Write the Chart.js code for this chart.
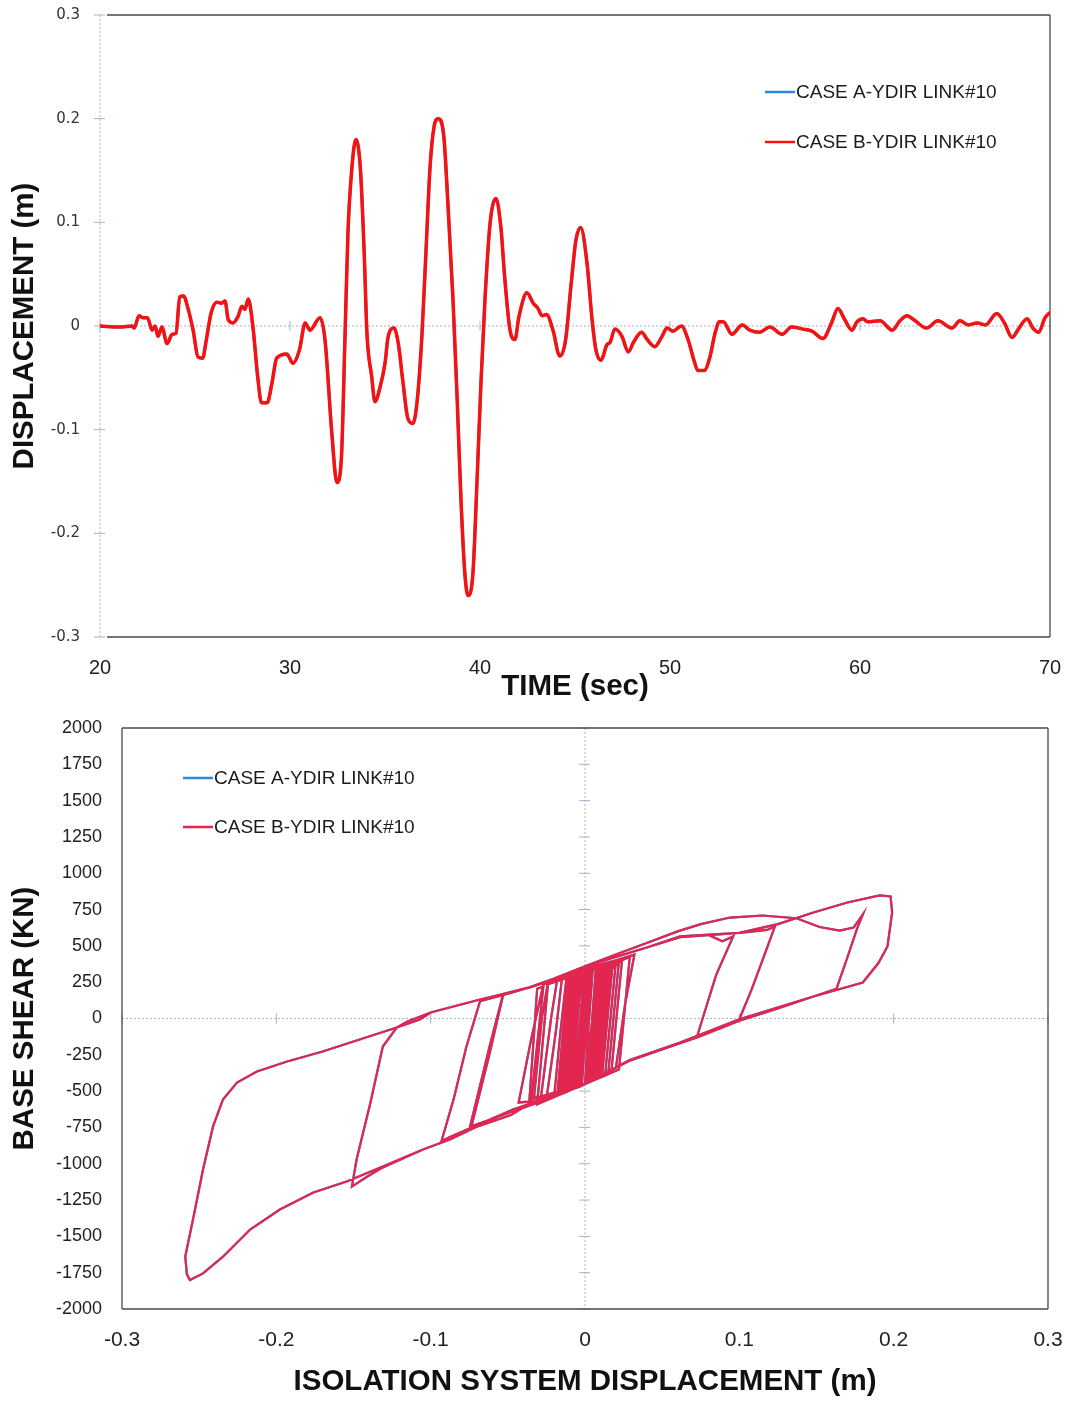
<!DOCTYPE html>
<html>
<head>
<meta charset="utf-8">
<title>Link #10 - displacement history and hysteresis</title>
<script src="https://cdn.jsdelivr.net/npm/chart.js@4.4.1/dist/chart.umd.min.js"></script>
<style>
  html, body { margin: 0; padding: 0; background: #fff; }
  #page { position: relative; width: 1070px; height: 1401px; }
  #wrapTime { position: absolute; left: 0; top: 0; width: 1070px; height: 705px; }
  #wrapLoop { position: absolute; left: 0; top: 705px; width: 1070px; height: 696px; }
</style>
</head>
<body>
<div id="page">
  <div id="wrapTime"><canvas id="timeChart" width="1070" height="705"></canvas></div>
  <div id="wrapLoop"><canvas id="loopChart" width="1070" height="696"></canvas></div>
</div>
<script>
// series names
const seriesLabels = ['CASE A-YDIR LINK#10', 'CASE B-YDIR LINK#10'];

// top chart: displacement (m) vs time (sec)
const timeSec = [
  20, 21.05, 21.7, 21.8, 22.05, 22.25, 22.5, 22.74, 22.9, 23.05,
  23.26, 23.53, 23.8, 24.0, 24.2, 24.4, 24.63, 24.9, 25.16, 25.4,
  25.6, 25.84, 26.15, 26.4, 26.58, 26.75, 27.0, 27.26, 27.47, 27.63,
  27.8, 28.05, 28.3, 28.5, 28.8, 29.05, 29.3, 29.84, 29.95, 30.16,
  30.5, 30.8, 31.05, 31.58, 31.84, 32.2, 32.47, 32.7, 32.9, 33.05,
  33.26, 33.47, 33.7, 33.9, 34.05, 34.3, 34.47, 34.74, 35.0, 35.16,
  35.47, 35.7, 35.95, 36.2, 36.47, 36.7, 36.95, 37.16, 37.37, 37.58,
  37.8, 38.1, 38.3, 38.58, 38.8, 39.0, 39.2, 39.37, 39.63, 39.84,
  40.05, 40.26, 40.53, 40.84, 41.1, 41.3, 41.58, 41.84, 42.05, 42.47,
  42.8, 43.05, 43.26, 43.5, 43.84, 44.2, 44.5, 44.8, 45.05, 45.3,
  45.63, 45.9, 46.1, 46.37, 46.68, 46.84, 47.1, 47.47, 47.8, 48.1,
  48.5, 48.8, 49.2, 49.58, 49.84, 50.16, 50.6, 50.95, 51.26, 51.47,
  51.8, 52.1, 52.37, 52.6, 52.8, 53.26, 53.8, 54.2, 54.7, 55.26,
  55.9, 56.4, 57.0, 57.47, 58.05, 58.5, 58.84, 59.2, 59.58, 59.84,
  60.16, 60.4, 61.05, 61.7, 62.1, 62.47, 62.9, 63.5, 64.1, 64.84,
  65.26, 65.7, 66.16, 66.6, 67.2, 67.6, 68.0, 68.37, 68.8, 69.1,
  69.4, 69.74, 70
];
const dispCaseB = [
  0, -0.001, 0, -0.002, 0.010, 0.008, 0.008, -0.004, 0, -0.010,
  -0.001, -0.017, -0.008, -0.007, 0.028, 0.029, 0.017, -0.004, -0.030, -0.031,
  -0.013, 0.012, 0.023, 0.022, 0.024, 0.006, 0.003, 0.009, 0.019, 0.016,
  0.026, -0.001, -0.049, -0.074, -0.074, -0.055, -0.031, -0.027, -0.030, -0.036,
  -0.023, 0.003, -0.004, 0.008, -0.013, -0.103, -0.151, -0.129, -0.007, 0.090,
  0.153, 0.180, 0.153, 0.073, -0.007, -0.049, -0.073, -0.059, -0.036, -0.011,
  -0.002, -0.017, -0.055, -0.089, -0.094, -0.071, -0.007, 0.073, 0.153, 0.192,
  0.200, 0.182, 0.122, 0.025, -0.071, -0.168, -0.238, -0.260, -0.238, -0.151,
  -0.055, 0.025, 0.099, 0.123, 0.095, 0.047, -0.004, -0.013, 0.009, 0.032,
  0.022, 0.017, 0.010, 0.011, -0.004, -0.029, -0.014, 0.041, 0.083, 0.095,
  0.061, 0.006, -0.023, -0.033, -0.018, -0.016, -0.003, -0.010, -0.025, -0.015,
  -0.006, -0.013, -0.020, -0.010, -0.002, -0.005, 0.000, -0.013, -0.033, -0.043,
  -0.043, -0.030, -0.007, 0.004, 0.004, -0.008, 0.001, -0.004, -0.006, -0.001,
  -0.008, -0.001, -0.003, -0.005, -0.012, 0.003, 0.017, 0.006, -0.004, 0.004,
  0.007, 0.004, 0.005, -0.004, 0.005, 0.010, 0.005, -0.002, 0.005, -0.002,
  0.005, 0.001, 0.003, 0.001, 0.012, 0.003, -0.011, -0.002, 0.007, -0.002,
  -0.006, 0.008, 0.013
];
// case A sits under case B in the picture (same trace)
const dispCaseA = dispCaseB;

// bottom chart: [isolation displacement (m), base shear (kN)] in drawing order
const loopPoints = [
  [0.000,-450],
  [0.007,-419],[0.014,369],[-0.008,292],[-0.015,-518],
  [0.005,-428],[0.012,362],[-0.006,299],[-0.013,-509],
  [0.009,-410],[0.016,376],[-0.009,289],[-0.016,-522],
  [0.004,-432],[0.011,359],[-0.004,306],[-0.011,-500],
  [0.011,-401],[0.018,383],[-0.007,296],[-0.014,-513],
  [0.002,-441],[0.009,352],[-0.005,303],[-0.012,-504],
  [0.013,-392],[0.020,390],[-0.011,282],[-0.018,-531],
  [0.008,-414],[0.015,373],[-0.003,310],[-0.010,-495],
  [0.015,-383],[0.022,397],[-0.002,313],[-0.009,-491],
  [0.006,-423],[0.013,366],[-0.010,285],[-0.017,-527],
  [0.003,-437],[0.010,355],[0.003,331],[-0.004,-468],
  [0.001,-446],[0.008,348],[-0.003,310],[-0.010,-495],
  [-0.005,-473],[-0.001,100],[-0.008,60],[-0.017,-527],
  [0.022,-351],[0.029,422],[-0.024,236],[-0.031,-590],
  [0.017,-374],[0.024,404],[0.008,250],[0.003,-150],[0.015,350],[0.026,411],
  [0.010,355],[-0.014,289],[-0.036,213],[-0.053,165],[-0.062,-250],[-0.074,-760],
  [-0.048,-665],[-0.035,-580],[-0.027,220],[-0.031,205],[-0.036,-560],
  [0.001,-446],[0.008,385],
  [-0.014,289],[-0.036,213],[-0.068,131],[-0.100,41],[-0.115,-20],[-0.122,-62],
  [-0.131,-193],[-0.139,-578],[-0.148,-971],[-0.151,-1157],
  [-0.141,-1088],[-0.131,-1025],[-0.105,-902],[-0.0875,-833],[-0.0467,-627],[-0.003,-468],
  [0.029,-290],[0.0616,-170],[0.0726,-130],[0.100,-15],[0.125,70],[0.148,151],[0.163,205],
  [0.170,420],[0.176,610],[0.180,716],
  [0.174,626],[0.165,605],[0.152,630],[0.137,690],[0.115,709],[0.094,695],[0.075,650],
  [0.060,600],[0.040,520],[0.020,440],[0.000,360],[-0.020,275],[-0.036,215],[-0.053,170],
  [-0.062,-200],[-0.0745,-745],
  [-0.047,-640],[-0.025,-560],[-0.010,-495],[-0.006,-100],[-0.002,330],
  [-0.020,270],[-0.036,213],[-0.050,170],[-0.068,120],[-0.077,-200],[-0.085,-550],[-0.093,-845],
  [-0.0875,-815],[-0.0467,-627],[-0.003,-468],[0.029,-285],[0.0616,-165],[0.100,-5],
  [0.148,151],[0.180,248],[0.190,380],[0.196,496],[0.199,730],[0.198,840],
  [0.191,847],[0.170,799],[0.148,730],[0.125,650],[0.100,590],[0.0616,565],[0.040,489],
  [0.0078,385],[-0.014,289],[-0.0356,213],[-0.068,131],[-0.100,41],[-0.107,-7],[-0.122,-62],
  [-0.148,-151],[-0.170,-227],[-0.193,-296],[-0.2126,-365],[-0.2255,-441],[-0.2346,-558],
  [-0.241,-743],[-0.2475,-1040],[-0.254,-1384],[-0.259,-1638],[-0.258,-1760],[-0.256,-1800],
  [-0.2475,-1755],[-0.2346,-1640],[-0.217,-1453],[-0.1977,-1315],[-0.176,-1198],[-0.154,-1120],
  [-0.131,-1019],[-0.105,-902],[-0.0875,-833],[-0.0467,-627],[-0.003,-468],[0.029,-285],
  [0.0616,-165],[0.085,-75],[0.100,-5],[0.108,200],[0.116,430],[0.123,633],
  [0.118,610],[0.100,590],[0.0616,560],[0.040,489],[0.0078,385],[-0.005,330],[-0.009,0],[-0.013,-510],
  [0.000,-450],[0.020,-340],[0.026,100],[0.032,440],
  [0.020,400],[0.000,345],[-0.018,270],[-0.022,0],[-0.029,-580],
  [0.000,-450],[0.029,-290],[0.0616,-165],[0.0726,-124],[0.085,300],[0.096,565],[0.089,532],[0.080,575],
  [0.0616,560],[0.040,489],[0.0078,385],[-0.014,289],[-0.024,250],[-0.028,0],[-0.033,-540],
  [-0.020,-540],[-0.010,-495],[-0.006,-100],[-0.003,310],
  [-0.015,270],[-0.019,-100],[-0.025,-555],
  [-0.013,-510],[-0.009,-50],[-0.006,300],
  [-0.012,280],[-0.016,-100],[-0.020,-540],
  [-0.007,-480],[-0.003,-50],[0.000,320],
  [-0.014,289],[-0.027,234],[-0.035,-150],[-0.043,-578],
  [-0.0337,-571],[-0.010,-495],[-0.003,-464],[0.001,-100],[0.004,334],
  [0.000,320],[-0.004,-100],[-0.008,-486],
  [-0.004,-468],[-0.001,-50],[0.001,324],
  [-0.001,317],[-0.003,-100],[-0.006,-477],
  [-0.004,-468],[-0.002,-100],[-0.001,200],
  [-0.004,180],[-0.006,-150],[-0.008,-486],
  [-0.003,-464],[-0.001,200],
  [-0.006,200],[-0.009,-150],[-0.012,-504],
  [0.006,-423],[0.010,-405],[0.014,0],[0.017,380],
  [0.008,348],[0.003,331],[0.000,0],[-0.004,-468],
  [0.001,-446],[0.004,-100],[0.007,345],
  [0.003,331],[0.000,0],[-0.004,-468],
  [0.003,-437],[0.007,-50],[0.010,355],
  [0.005,338],[0.001,0],[-0.002,-459],
  [0.000,-450],[0.002,-100],[0.005,338],
  [0.002,327],[0.000,0],[-0.002,-459],
  [0.005,-428],[0.009,-50],[0.012,362],
  [0.000,320],[-0.005,270],[-0.008,-100],[-0.011,-500],
  [0.000,-450],[0.004,-100],[0.007,345],
  [0.001,324],[-0.003,-50],[-0.006,-477],
  [0.006,-423],[0.010,-50],[0.013,365]
];
const loopCaseA = loopPoints; // also hidden under case B

const SANS = '"Liberation Sans", Arial, sans-serif';
const BLUE = '#2f8ad6';
const RED_TOP = '#f71212';
const RED_LOOP = '#e3264f';

function toXY(xs, ys) {
  return xs.map((x, i) => ({ x: x, y: ys[i] }));
}

// dotted axes through the origin, cross tick marks, and the solid plot frame
const framePlugin = {
  id: 'frame',
  beforeDatasetsDraw(chart, args, o) {
    const { ctx, chartArea: a, scales: { x, y } } = chart;
    const x0 = x.getPixelForValue(o.crossX);
    const y0 = y.getPixelForValue(o.crossY);
    const seg = (x1, y1, x2, y2) => { ctx.beginPath(); ctx.moveTo(x1, y1); ctx.lineTo(x2, y2); ctx.stroke(); };
    ctx.save();
    ctx.strokeStyle = '#a7b1c7';
    ctx.lineWidth = 1;
    ctx.setLineDash([2, 2]);
    seg(x0, a.top, x0, a.bottom);
    seg(a.left, y0, a.right, y0);
    ctx.setLineDash([]);
    x.ticks.forEach(t => { const px = x.getPixelForValue(t.value); seg(px, y0 - 5, px, y0 + 5); });
    y.ticks.forEach(t => { const py = y.getPixelForValue(t.value); seg(x0 - 6, py, x0 + 5, py); });
    ctx.strokeStyle = '#4a4a4a';
    ctx.lineWidth = 1.3;
    const l = a.left + o.inset;
    seg(l, a.top, a.right, a.top);
    seg(a.right, a.top, a.right, a.bottom);
    seg(l, a.bottom, a.right, a.bottom);
    if (o.leftSide) seg(a.left, a.top, a.left, a.bottom);
    ctx.restore();
  }
};

// legend placed inside the plot like the spreadsheet original
const sideLegend = {
  id: 'sideLegend',
  afterDatasetsDraw(chart, args, o) {
    const ctx = chart.ctx;
    ctx.save();
    ctx.font = o.size + 'px ' + SANS;
    ctx.textBaseline = 'middle';
    chart.data.datasets.forEach((ds, i) => {
      const yy = o.y + i * o.gap;
      ctx.strokeStyle = ds.borderColor;
      ctx.lineWidth = 2.5;
      ctx.beginPath(); ctx.moveTo(o.x, yy); ctx.lineTo(o.x + 30, yy); ctx.stroke();
      ctx.fillStyle = '#1b1b1b';
      ctx.fillText(ds.label, o.x + 31, yy + 1);
    });
    ctx.restore();
  }
};

const titleFont = { family: SANS, size: 29.5, weight: 'bold' };

// fixed scale boxes so the plot areas land where the original has them
const fixX = h => s => { s.height = h; s.paddingLeft = 0; s.paddingRight = 0; };
const fixY = w => s => { s.width = w; s.paddingTop = 0; s.paddingBottom = 0; };

new Chart(document.getElementById('timeChart'), {
  type: 'line',
  data: {
    datasets: [
      { label: seriesLabels[0], data: toXY(timeSec, dispCaseA), borderColor: BLUE, borderWidth: 3, order: 1 },
      { label: seriesLabels[1], data: toXY(timeSec, dispCaseB), borderColor: RED_TOP, borderWidth: 3.5, order: 0 }
    ]
  },
  options: {
    responsive: false,
    animation: false,
    layout: { padding: { top: 15, right: 20, left: 0, bottom: 0 } },
    elements: { point: { radius: 0 }, line: { cubicInterpolationMode: 'monotone' } },
    plugins: {
      legend: { display: false },
      tooltip: { enabled: false },
      frame: { crossX: 20, crossY: 0, inset: 7, leftSide: false },
      sideLegend: { x: 765, y: 92, gap: 50, size: 19 }
    },
    scales: {
      x: {
        type: 'linear', min: 20, max: 70,
        grid: { display: false, drawTicks: false },
        border: { display: false },
        ticks: { stepSize: 10, padding: 19, maxRotation: 0, autoSkip: false, color: '#222',
                 font: { family: SANS, size: 20 } },
        title: { display: true, text: 'TIME (sec)', color: '#111', font: titleFont, padding: { top: 0, bottom: 0 } },
        afterFit: fixX(68)
      },
      y: {
        min: -0.3, max: 0.3,
        grid: { display: false, drawTicks: false },
        border: { display: false },
        ticks: { stepSize: 0.1, padding: 20, autoSkip: false, color: '#333',
                 font: { family: '"DejaVu Sans", Verdana, sans-serif', size: 15 },
                 callback: v => String(+v.toFixed(1)) },
        title: { display: true, text: 'DISPLACEMENT (m)', color: '#111', font: titleFont, padding: { top: 7, bottom: 0 } },
        afterFit: fixY(100)
      }
    }
  },
  plugins: [framePlugin, sideLegend]
});

new Chart(document.getElementById('loopChart'), {
  type: 'scatter',
  data: {
    datasets: [
      { label: seriesLabels[0], data: loopCaseA.map(p => ({ x: p[0], y: p[1] })), borderColor: BLUE,
        showLine: true, borderWidth: 2.2, order: 1 },
      { label: seriesLabels[1], data: loopPoints.map(p => ({ x: p[0], y: p[1] })), borderColor: RED_LOOP,
        showLine: true, borderWidth: 2.2, order: 0 }
    ]
  },
  options: {
    responsive: false,
    animation: false,
    layout: { padding: { top: 23, right: 22, left: 0, bottom: 0 } },
    elements: { point: { radius: 0 }, line: { tension: 0 } },
    plugins: {
      legend: { display: false },
      tooltip: { enabled: false },
      frame: { crossX: 0, crossY: 0, inset: 0, leftSide: true },
      sideLegend: { x: 183, y: 73, gap: 49, size: 19 }
    },
    scales: {
      x: {
        type: 'linear', min: -0.3, max: 0.3,
        grid: { display: false, drawTicks: false },
        border: { display: false },
        ticks: { stepSize: 0.1, padding: 19, maxRotation: 0, autoSkip: false, color: '#222',
                 font: { family: SANS, size: 21 },
                 callback: v => String(+v.toFixed(1)) },
        title: { display: true, text: 'ISOLATION SYSTEM DISPLACEMENT (m)', color: '#111', font: titleFont, padding: { top: 0, bottom: 1 } },
        afterFit: fixX(92)
      },
      y: {
        min: -2000, max: 2000,
        grid: { display: false, drawTicks: false },
        border: { display: false },
        ticks: { stepSize: 250, padding: 20, autoSkip: false, color: '#222',
                 font: { family: SANS, size: 18 },
                 callback: v => String(v) },
        title: { display: true, text: 'BASE SHEAR (KN)', color: '#111', font: titleFont, padding: { top: 7, bottom: 0 } },
        afterFit: fixY(122)
      }
    }
  },
  plugins: [framePlugin, sideLegend]
});
</script>
</body>
</html>
